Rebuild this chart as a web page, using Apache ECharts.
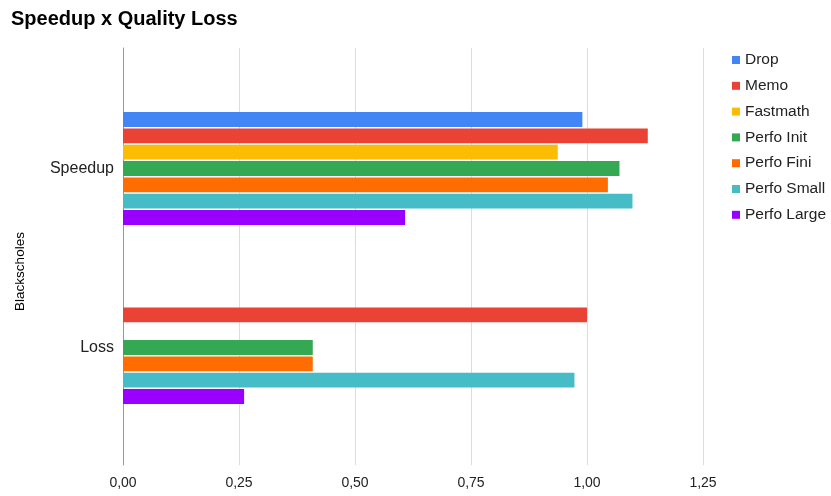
<!DOCTYPE html>
<html>
<head>
<meta charset="utf-8">
<script src="https://cdn.jsdelivr.net/npm/echarts@6/dist/echarts.min.js"></script>
<style>
  html, body { margin: 0; padding: 0; background: #fff; }
  #chart { width: 831px; height: 496px; }
</style>
</head>
<body>
<div id="chart"></div>
<script>
// Blackscholes benchmark: speedup and quality loss per approximation technique
const categories = ['Speedup', 'Loss'];
const seriesNames = ['Drop', 'Memo', 'Fastmath', 'Perfo Init', 'Perfo Fini', 'Perfo Small', 'Perfo Large'];
const drop       = [0.990, null];
const memo       = [1.131, 1.000];
const fastmath   = [0.937, null];
const perfoInit  = [1.070, 0.409];
const perfoFini  = [1.045, 0.409];
const perfoSmall = [1.098, 0.973];
const perfoLarge = [0.608, 0.261];
const xTicks = [0, 0.25, 0.5, 0.75, 1.0, 1.25];

const seriesValues = [drop, memo, fastmath, perfoInit, perfoFini, perfoSmall, perfoLarge];
const colors = ['#4285F4', '#EA4335', '#FBBC04', '#34A853', '#FF6D01', '#46BDC6', '#9900FF'];
const FONT = 'Liberation Sans, Arial, sans-serif';

const chart = echarts.init(document.getElementById('chart'), null, { renderer: 'canvas' });

chart.setOption({
  animation: false,
  color: colors,
  textStyle: { fontFamily: FONT },
  title: {
    text: 'Speedup x Quality Loss',
    left: 11, top: 9, padding: 0,
    textStyle: { fontSize: 20, fontWeight: 'bold', color: '#000', fontFamily: FONT }
  },
  legend: {
    orient: 'vertical',
    left: 732, top: 52, padding: 0,
    icon: 'rect',
    itemWidth: 8, itemHeight: 8,
    itemGap: 9.8,
    itemTextGap: 6,
    textStyle: { fontSize: 15.5, color: '#222', lineHeight: 16, fontFamily: FONT },
    data: seriesNames
  },
  grid: [
    // full-height frame carrying gridlines and tick labels
    { left: 123, right: 128, top: 48, bottom: 31 },
    // inner area holding the bars
    { left: 123, right: 128, top: 79, bottom: 59 }
  ],
  xAxis: [
    {
      gridIndex: 0, type: 'value',
      min: xTicks[0], max: xTicks[xTicks.length - 1], interval: 0.25,
      axisLine: { show: false }, axisTick: { show: false },
      splitLine: { show: true, lineStyle: { color: '#dcdcdc', width: 1 } },
      axisLabel: {
        margin: 11, fontSize: 14, color: '#222', fontFamily: FONT,
        formatter: v => v.toFixed(2).replace('.', ',')
      }
    },
    {
      gridIndex: 1, type: 'value',
      min: xTicks[0], max: xTicks[xTicks.length - 1], interval: 0.25,
      show: false
    }
  ],
  yAxis: [
    {
      gridIndex: 0, type: 'value', min: 0, max: 1,
      axisLine: { show: true, lineStyle: { color: '#999', width: 1 } },
      axisTick: { show: false }, axisLabel: { show: false }, splitLine: { show: false },
      name: 'Blackscholes', nameLocation: 'middle', nameGap: 96, nameRotate: 90,
      nameTextStyle: { fontSize: 13.5, color: '#000', fontFamily: FONT, padding: [0, 30, 0, 0] }
    },
    {
      gridIndex: 1, type: 'category', data: categories, inverse: true,
      axisLine: { show: false }, axisTick: { show: false },
      axisLabel: { fontSize: 16, color: '#222', margin: 9, fontFamily: FONT }
    }
  ],
  series: seriesNames.map((name, i) => ({
    name,
    type: 'bar',
    xAxisIndex: 1, yAxisIndex: 1,
    data: seriesValues[i],
    barCategoryGap: '37%',
    barGap: '10%'
  }))
});
</script>
</body>
</html>
